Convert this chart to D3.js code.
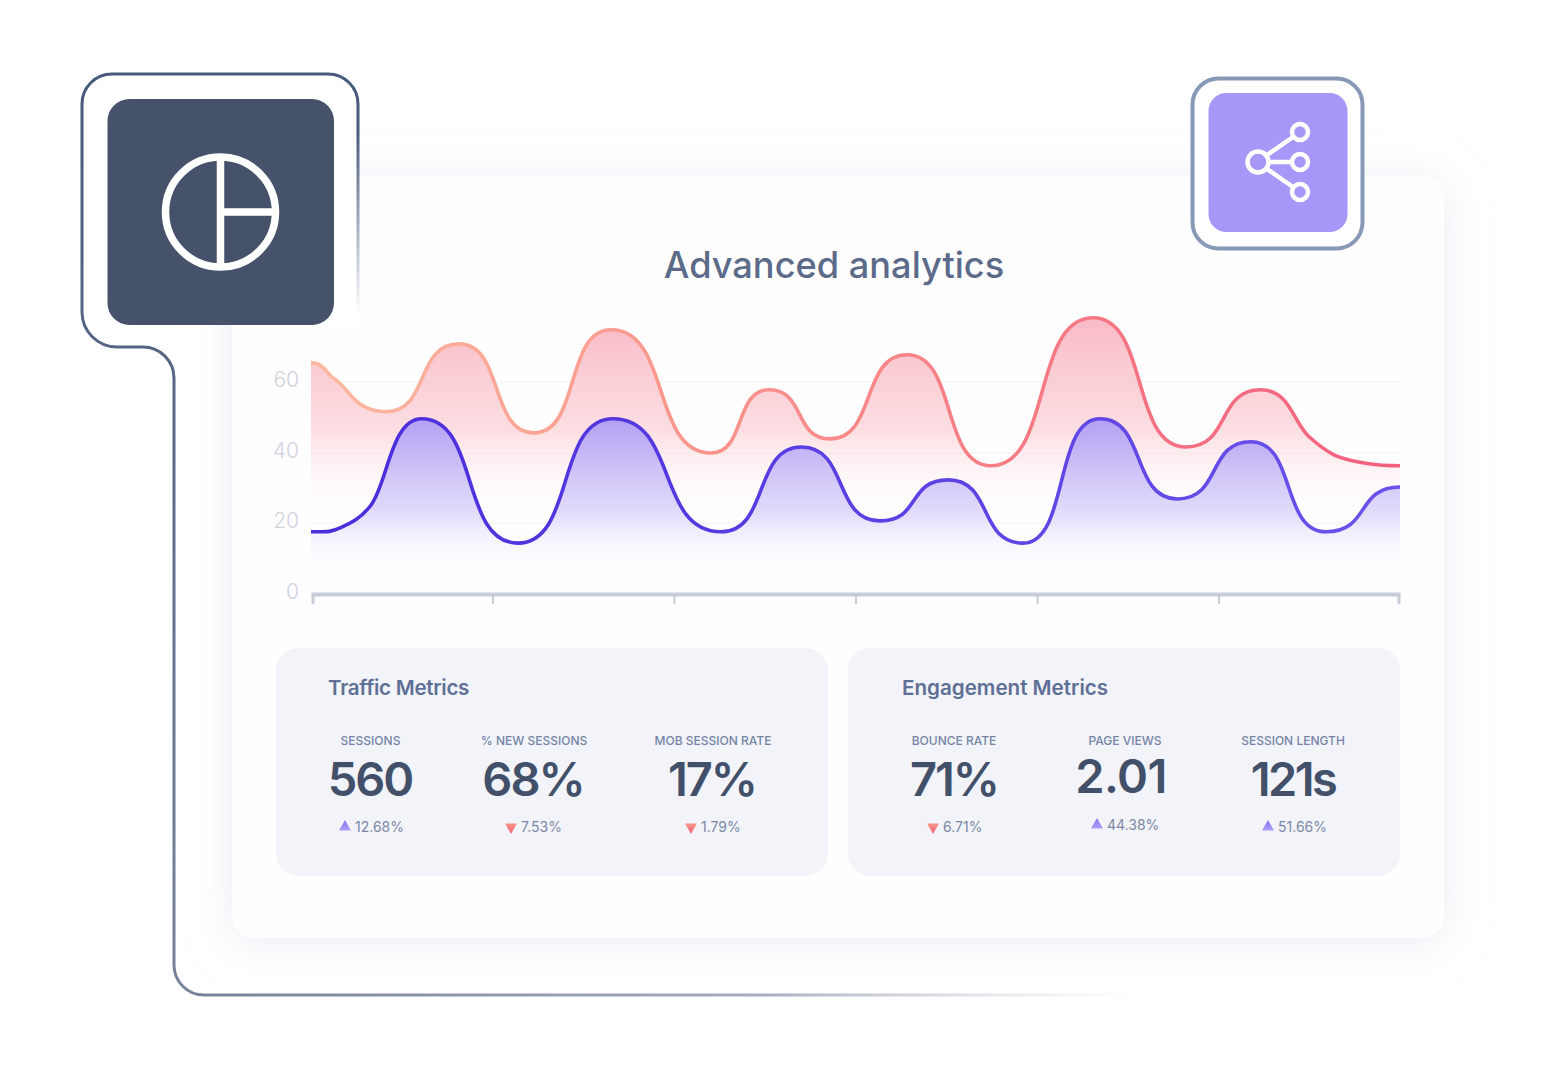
<!DOCTYPE html>
<html>
<head>
<meta charset="utf-8">
<script src="https://cdn.jsdelivr.net/npm/d3@7"></script>
<style>
  html, body { margin: 0; background: #fff; }
  svg { display: block; }
  text { font-family: Inter, "Open Sans", sans-serif; }
</style>
</head>
<body>
<svg id="chart" width="1552" height="1072"></svg>
<script>
// values: the turning points of both lines, plus a few on the slow ends
const yTicks = [0, 20, 40, 60];
const xTicks = [0, 10, 20, 30, 40, 50, 60];

const redX = [0, 1.21, 4.13, 8.15, 12.29, 16.53, 22.04, 25.23, 28.6, 32.84, 37.47, 43.09, 48.21, 52.34, 54.99, 56.36, 58.02, 60];
const redY = [65.4, 61.2, 51.6, 70.8, 45.6, 74.8, 39.9, 57.8, 43.9, 67.7, 36.3, 78.2, 41.6, 57.8, 44.5, 39.4, 37.1, 36.3];

const blueX = [0, 1.6, 3.31, 6.09, 11.4, 16.64, 22.59, 27.02, 31.35, 35.1, 39.23, 43.47, 47.74, 51.79, 55.92, 60];
const blueY = [17.6, 18.7, 25.2, 49.6, 14.4, 49.6, 17.6, 41.6, 20.7, 32.3, 14.4, 49.6, 26.9, 43.1, 17.6, 30.3];

const panelTitles = ['Traffic Metrics', 'Engagement Metrics'];
const metricLabels = ['SESSIONS', '% NEW SESSIONS', 'MOB SESSION RATE', 'BOUNCE RATE', 'PAGE VIEWS', 'SESSION LENGTH'];
const metricValues = ['560', '68%', '17%', '71%', '2.01', '121s'];
const metricDeltas = ['12.68%', '7.53%', '1.79%', '6.71%', '44.38%', '51.66%'];
const metricUp = [true, false, false, false, true, true];

// layout
const labelCx = [370.5, 534, 713, 954, 1125, 1293];
const valueCx = [370, 533, 712, 954, 1121, 1293];
const valueSpacing = [-2, -2, -2, -2, -0.6, -2.6];
const deltaTriX = [345, 511, 691, 933, 1097, 1268];
const valueBase = [796, 796, 796, 796, 793, 796];
const deltaBase = [832, 832, 832, 832, 830, 832];

// cubic segments: long flat handles at turning points and line ends,
// short handles along the neighbours' slope on a point that is only passed through
class LongBump {
  constructor(context) { this._context = context; }
  areaStart() { this._line = 0; }
  areaEnd() { this._line = NaN; }
  lineStart() { this._pts = []; }
  point(px, py) { this._pts.push([px, py]); }
  lineEnd() {
    const pts = this._pts;
    const slope = i => {
      if (i === 0 || i === pts.length - 1) return 0;
      const a = pts[i - 1], b = pts[i], c = pts[i + 1];
      if ((b[1] - a[1]) * (c[1] - b[1]) <= 0) return 0;
      return (c[1] - a[1]) / (c[0] - a[0]);
    };
    pts.forEach((p, i) => {
      if (i === 0) {
        if (this._line) this._context.lineTo(p[0], p[1]);
        else this._context.moveTo(p[0], p[1]);
        return;
      }
      const q = pts[i - 1];
      const dx = p[0] - q[0];
      const m0 = slope(i - 1), m1 = slope(i);
      const h0 = dx * (m0 === 0 ? 0.6 : 0.33);
      const h1 = dx * (m1 === 0 ? 0.6 : 0.33);
      this._context.bezierCurveTo(q[0] + h0, q[1] + m0 * h0, p[0] - h1, p[1] - m1 * h1, p[0], p[1]);
    });
    if (this._line) this._context.closePath();
    this._line = 1 - this._line;
  }
}
const curveLongBump = context => new LongBump(context);

const svg = d3.select('#chart');
const defs = svg.append('defs');

function linearGrad(id, x1, y1, x2, y2, stops) {
  const g = defs.append('linearGradient').attr('id', id)
    .attr('gradientUnits', 'userSpaceOnUse')
    .attr('x1', x1).attr('y1', y1).attr('x2', x2).attr('y2', y2);
  stops.forEach(s => g.append('stop').attr('offset', s[0]).attr('stop-color', s[1]).attr('stop-opacity', s[2] === undefined ? 1 : s[2]));
}

linearGrad('redFill', 0, 318, 0, 522, [[0, '#f7a8b8', 0.8], [0.55, '#fbc9cf', 0.6], [1, '#fff', 0]]);
linearGrad('blueFill', 0, 419, 0, 575, [[0, '#a795f7', 0.85], [0.6, '#d5ccfa', 0.7], [1, '#fff', 0]]);
linearGrad('redLine', 311, 0, 1400, 0, [[0, '#fdb9a0'], [0.3, '#fb9a8e'], [0.6, '#f77f86'], [1, '#f2607e']]);
linearGrad('blueLine', 311, 0, 1400, 0, [[0, '#4a2ddb'], [1, '#6a52ea']]);
linearGrad('frameMain', 0, 74, 0, 995, [[0, '#46597b'], [1, '#77839c']]);
linearGrad('frameRight', 0, 130, 0, 315, [[0, '#46597b'], [1, '#46597b', 0]]);
linearGrad('frameBottom', 204, 0, 1135, 0, [[0, '#77839c'], [0.6, '#a6aebf'], [1, '#c9ced8', 0]]);
linearGrad('triUp', 0, -6, 0, 6, [[0, '#8a76f3'], [1, '#b6a9fa']]);
linearGrad('triDown', 0, -6, 0, 6, [[0, '#f06a78'], [1, '#fba08f']]);

const shadow = defs.append('filter').attr('id', 'cardShadow')
  .attr('x', '-10%').attr('y', '-10%').attr('width', '120%').attr('height', '120%');
shadow.append('feDropShadow').attr('dx', 0).attr('dy', 4).attr('stdDeviation', 22)
  .attr('flood-color', '#d9deea').attr('flood-opacity', 0.55);

// card
svg.append('rect').attr('x', 232).attr('y', 176).attr('width', 1212).attr('height', 762).attr('rx', 22)
  .attr('fill', '#fefefe').attr('filter', 'url(#cardShadow)');

svg.append('text').attr('x', 834).attr('y', 278).attr('text-anchor', 'middle')
  .attr('font-size', 36.2).attr('font-weight', 500).attr('fill', '#5b6b89')
  .text('Advanced analytics');

// chart
const x = d3.scaleLinear().domain([0, 60]).range([311, 1400]);
const y = d3.scaleLinear().domain([0, 60]).range([594, 382]);

svg.append('g').selectAll('line').data(yTicks.slice(1)).join('line')
  .attr('x1', 311).attr('x2', 1400).attr('y1', d => y(d)).attr('y2', d => y(d))
  .attr('stroke', '#f5f6f9').attr('stroke-width', 1.5);

const redData = redX.map((t, i) => [t, redY[i]]);
const blueData = blueX.map((t, i) => [t, blueY[i]]);

const line = d3.line().x(d => x(d[0])).y(d => y(d[1])).curve(curveLongBump);
const area = d3.area().x(d => x(d[0])).y0(y(0)).y1(d => y(d[1])).curve(curveLongBump);

svg.append('path').datum(redData).attr('d', area).attr('fill', 'url(#redFill)');
svg.append('path').datum(blueData).attr('d', area).attr('fill', 'url(#blueFill)');
svg.append('path').datum(redData).attr('d', line).attr('fill', 'none')
  .attr('stroke', 'url(#redLine)').attr('stroke-width', 3.6);
svg.append('path').datum(blueData).attr('d', line).attr('fill', 'none')
  .attr('stroke', 'url(#blueLine)').attr('stroke-width', 3.6);

const xAxis = svg.append('g').attr('transform', 'translate(0,594)')
  .call(d3.axisBottom(x).tickValues(xTicks).tickSize(10).tickSizeOuter(0).tickFormat(''));
xAxis.select('.domain').attr('stroke', '#c6cdda').attr('stroke-width', 4);
xAxis.selectAll('.tick line').attr('stroke', '#c6cdda')
  .attr('stroke-width', d => (d === 0 || d === 60) ? 3 : 2)
  .attr('x1', d => d === 0 ? 1.5 : d === 60 ? -1.5 : 0)
  .attr('x2', d => d === 0 ? 1.5 : d === 60 ? -1.5 : 0);

const yAxis = svg.append('g').attr('transform', 'translate(299,0)')
  .call(d3.axisLeft(y).tickValues(yTicks).tickSize(0).tickPadding(0));
yAxis.select('.domain').remove();
yAxis.selectAll('.tick text').attr('font-size', 21).attr('font-weight', 300)
  .attr('font-family', 'Lato, sans-serif').attr('fill', '#ced3dd').attr('dy', '0.22em');

// frame with the dark icon
const frame = svg.append('g');
frame.append('path')
  .attr('d', 'M358 325V104A30 30 0 0 0 328 74H112A30 30 0 0 0 82 104V312A35 35 0 0 0 117 347H143A31 31 0 0 1 174 378V325Z')
  .attr('fill', '#fff');
frame.append('path')
  .attr('d', 'M358 130V104A30 30 0 0 0 328 74H112A30 30 0 0 0 82 104V312A35 35 0 0 0 117 347H143A31 31 0 0 1 174 378V965A30 30 0 0 0 204 995')
  .attr('fill', 'none').attr('stroke', 'url(#frameMain)').attr('stroke-width', 3);
frame.append('path').attr('d', 'M358 130V315').attr('fill', 'none')
  .attr('stroke', 'url(#frameRight)').attr('stroke-width', 3);
frame.append('path').attr('d', 'M204 995H1135').attr('fill', 'none')
  .attr('stroke', 'url(#frameBottom)').attr('stroke-width', 3);

frame.append('rect').attr('x', 107.5).attr('y', 99).attr('width', 226.5).attr('height', 226).attr('rx', 22).attr('fill', '#465269');
const pie = frame.append('g').attr('fill', 'none').attr('stroke', '#fff').attr('stroke-width', 7.5);
pie.append('circle').attr('cx', 220.5).attr('cy', 212).attr('r', 55);
pie.append('path').attr('d', 'M220.5 157V267M220.5 212H275');

// share icon
const share = svg.append('g');
share.append('rect').attr('x', 1192.5).attr('y', 78.5).attr('width', 170).attr('height', 170).attr('rx', 26)
  .attr('fill', '#fff').attr('stroke', '#8899b8').attr('stroke-width', 4);
share.append('rect').attr('x', 1208.5).attr('y', 93).attr('width', 139).attr('height', 139).attr('rx', 18).attr('fill', '#a897f8');
const ic = share.append('g').attr('fill', 'none').attr('stroke', '#fff').attr('stroke-width', 4.5);
ic.append('path').attr('d', 'M1267 155L1293 137M1269 162H1291M1267 169L1293 187');
ic.append('circle').attr('cx', 1258).attr('cy', 162).attr('r', 10.5);
[132, 162, 192].forEach(cy => ic.append('circle').attr('cx', 1300).attr('cy', cy).attr('r', 8));

// metric panels
const panelX = [276, 848];
const panelTitleX = [328, 902];
const panelTitleSpacing = [-0.3, 0];
panelX.forEach((px, i) => {
  svg.append('rect').attr('x', px).attr('y', 648).attr('width', 552).attr('height', 228).attr('rx', 22).attr('fill', '#f2f4f9');
  svg.append('text').attr('x', panelTitleX[i]).attr('y', 695).attr('font-size', 20.6).attr('font-weight', 600)
    .attr('letter-spacing', panelTitleSpacing[i]).attr('fill', '#5f7096').text(panelTitles[i]);
});

const metric = svg.append('g').selectAll('g').data(metricLabels).join('g');
metric.append('text').attr('x', (d, i) => labelCx[i]).attr('y', 744.5).attr('text-anchor', 'middle')
  .attr('font-size', 12).attr('font-weight', 500).attr('fill', '#7585a6').text(d => d);
metric.append('text').attr('x', (d, i) => valueCx[i]).attr('y', (d, i) => valueBase[i]).attr('text-anchor', 'middle')
  .attr('font-size', 47).attr('font-weight', 600).attr('letter-spacing', (d, i) => valueSpacing[i])
  .attr('fill', '#42506a').text((d, i) => metricValues[i]);
metric.append('path')
  .attr('d', d3.symbol(d3.symbolTriangle, 62))
  .attr('transform', (d, i) => `translate(${deltaTriX[i]},${deltaBase[i] - 5}) rotate(${metricUp[i] ? 0 : 180})`)
  .attr('fill', (d, i) => metricUp[i] ? 'url(#triUp)' : 'url(#triDown)');
metric.append('text').attr('x', (d, i) => deltaTriX[i] + 10).attr('y', (d, i) => deltaBase[i])
  .attr('font-size', 14).attr('fill', '#7b89a6').text((d, i) => metricDeltas[i]);
</script>
</body>
</html>
